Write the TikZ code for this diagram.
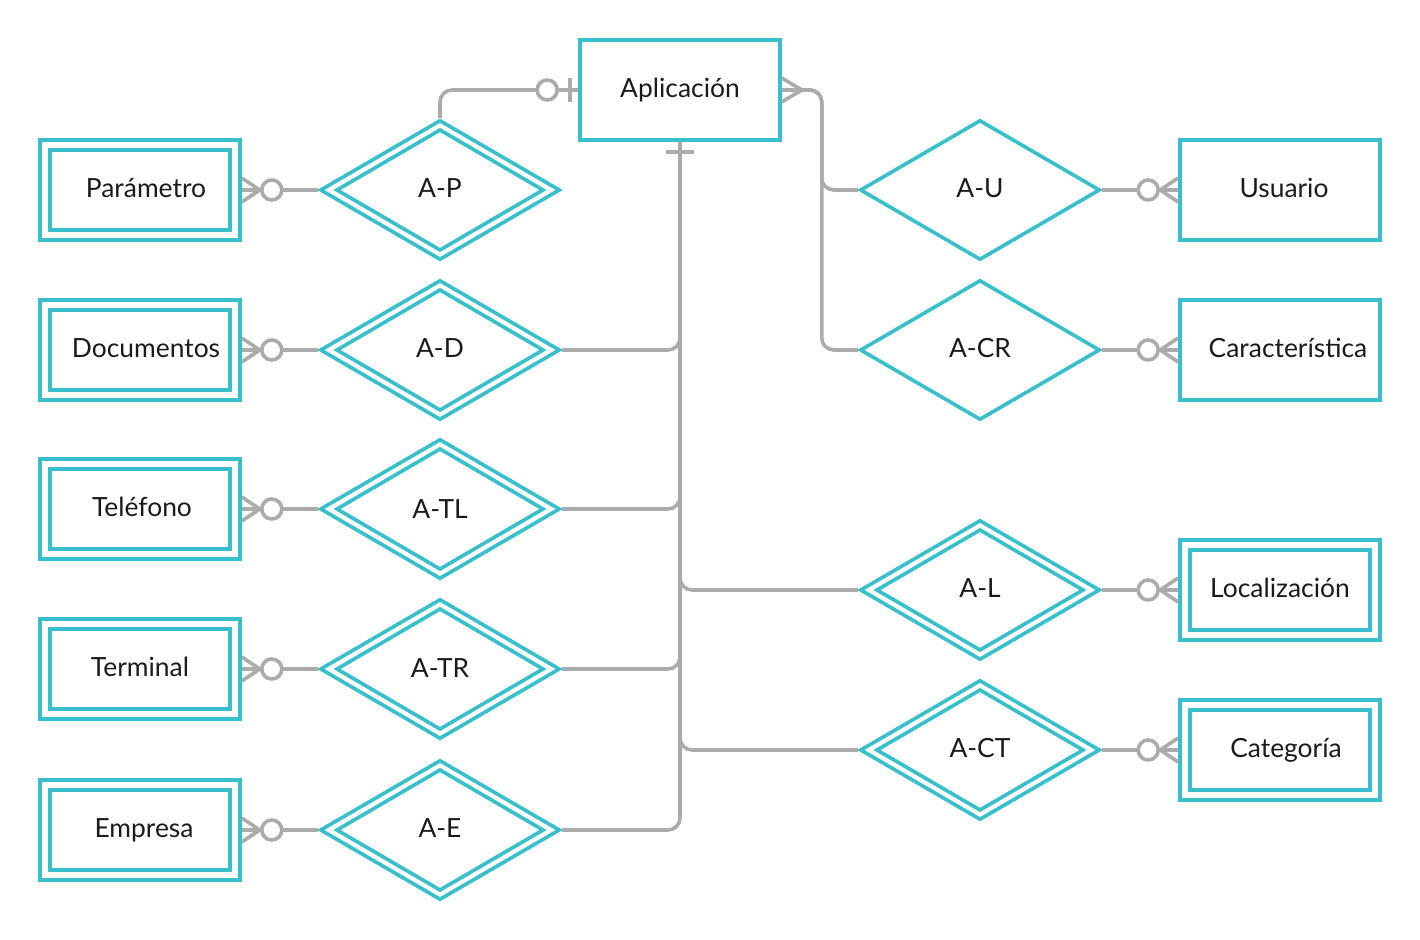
\documentclass[tikz,border=0pt]{standalone}
\usepackage{fontspec}
\setmainfont{Lato}
\usetikzlibrary{shapes.geometric,calc}
\definecolor{teal1}{HTML}{38BFCC}
\definecolor{gray1}{HTML}{ABABAB}
\definecolor{txt}{HTML}{1A1A1A}
\tikzset{
  ent/.style={draw=teal1, line width=1.8pt, rectangle, minimum width=100pt, minimum height=50pt, inner sep=0pt, text=txt, font=\fontsize{13.2}{15}\selectfont},
  ent2/.style={ent, path picture={\draw[teal1, line width=1.8pt] ([shift={(-90,-40)}]path picture bounding box.center) rectangle ([shift={(90,40)}]path picture bounding box.center);}},
  rel/.style={draw=teal1, line width=1.8pt, diamond, minimum width=120pt, minimum height=70pt, inner sep=0pt, text=txt, font=\fontsize{13.2}{15}\selectfont},
  rel2/.style={rel, path picture={\draw[teal1, line width=1.8pt] ([shift={(-103,0)}]path picture bounding box.center) -- ([shift={(0,-60)}]path picture bounding box.center) -- ([shift={(103,0)}]path picture bounding box.center) -- ([shift={(0,60)}]path picture bounding box.center) -- cycle;}},
  conn/.style={draw=gray1, line width=1.8pt, rounded corners=6pt},
  foot/.style={draw=gray1, line width=1.8pt, sharp corners},
}
\begin{document}
\begin{tikzpicture}[x=0.5pt,y=-0.5pt]
\useasboundingbox (0,0) rectangle (1420,940);
% entities
\node[ent] (App) at (680,90) {\raisebox{2pt}{Aplicación}};
\node[ent2] (Par) at (140,190) {\raisebox{2pt}{\hspace{6pt}Parámetro}};
\node[ent2] (Doc) at (140,350) {\raisebox{2pt}{\hspace{6pt}Documentos}};
\node[ent2] (Tel) at (140,509) {\raisebox{2pt}{\hspace{2pt}Teléfono}};
\node[ent2] (Ter) at (140,669) {\raisebox{2pt}{Terminal}};
\node[ent2] (Emp) at (140,830) {\raisebox{2pt}{\hspace{4pt}Empresa}};
\node[ent] (Usu) at (1280,190) {\raisebox{2pt}{\hspace{4pt}Usuario}};
\node[ent] (Car) at (1280,350) {\raisebox{2pt}{\hspace{8pt}Característica}};
\node[ent2] (Loc) at (1280,590) {\raisebox{2pt}{Localización}};
\node[ent2] (Cat) at (1280,750) {\raisebox{2pt}{\hspace{6pt}Categoría}};
% relationships
\node[rel2] (AP) at (440,190) {\raisebox{2pt}{A-P}};
\node[rel2] (AD) at (440,350) {\raisebox{2pt}{A-D}};
\node[rel2] (ATL) at (440,509) {A-TL};
\node[rel2] (ATR) at (440,669) {\raisebox{1pt}{A-TR}};
\node[rel2] (AE) at (440,830) {\raisebox{2pt}{A-E}};
\node[rel] (AU) at (980,190) {\raisebox{2pt}{A-U}};
\node[rel] (ACR) at (980,350) {\raisebox{2pt}{A-CR}};
\node[rel2] (AL) at (980,590) {\raisebox{2pt}{A-L}};
\node[rel2] (ACT) at (980,750) {\raisebox{2pt}{A-CT}};
% connectors: diamonds to entities
\draw[conn] (AP.west) -- (Par.east);
\draw[conn] (AD.west) -- (Doc.east);
\draw[conn] (ATL.west) -- (Tel.east);
\draw[conn] (ATR.west) -- (Ter.east);
\draw[conn] (AE.west) -- (Emp.east);
\draw[conn] (AU.east) -- (Usu.west);
\draw[conn] (ACR.east) -- (Car.west);
\draw[conn] (AL.east) -- (Loc.west);
\draw[conn] (ACT.east) -- (Cat.west);
\foreach \n in {Par,Doc,Tel,Ter,Emp} {
  \draw[foot] ($(\n.east)+(0,-12)$) -- ($(\n.east)+(18,0)$) -- ($(\n.east)+(0,12)$);
  \draw[foot,fill=white] ($(\n.east)+(30,0)$) circle[radius=5pt];
}
\foreach \n in {Usu,Car,Loc,Cat} {
  \draw[foot] ($(\n.west)+(0,-12)$) -- ($(\n.west)+(-18,0)$) -- ($(\n.west)+(0,12)$);
  \draw[foot,fill=white] ($(\n.west)+(-30,0)$) circle[radius=5pt];
}
% A-P to Aplicacion (zero or one)
\draw[conn] (AP.north) |- (App.west);
\draw[foot,fill=white] ($(App.west)+(-31,0)$) circle[radius=5pt];
\draw[foot] ($(App.west)+(-8,-12)$) -- ($(App.west)+(-8,12)$);
% bottom trunk
\draw[foot] ($(App.south)+(-14,10)$) -- ($(App.south)+(14,10)$);
\draw[conn] (App.south) |- (AD.east);
\draw[conn] (App.south) |- (ATL.east);
\draw[conn] (App.south) |- (ATR.east);
\draw[conn] (App.south) |- (AE.east);
\draw[conn] (App.south) |- (AL.west);
\draw[conn] (App.south) |- (ACT.west);
% right side (many)
\coordinate (rj) at ($(App.east)+(40,0)$);
\draw[conn] (App.east) -- (rj) |- (AU.west);
\draw[conn] (App.east) -- (rj) |- (ACR.west);
\draw[foot] ($(App.east)+(0,-12)$) -- ($(App.east)+(20,0)$) -- ($(App.east)+(0,12)$);
\draw[foot] (App.east) -- ($(App.east)+(20,0)$);
\end{tikzpicture}
\end{document}
